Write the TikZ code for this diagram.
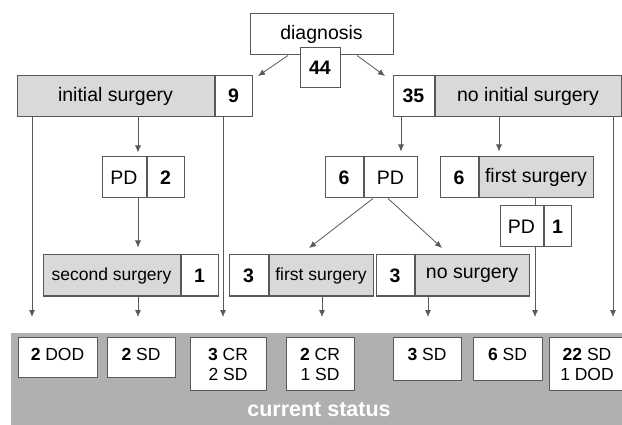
\documentclass[tikz,border=0pt]{standalone}
\usepackage{fontspec}
\setmainfont{Liberation Sans}
\usetikzlibrary{arrows.meta,positioning}
\definecolor{boxgray}{gray}{0.85}
\definecolor{bandgray}{gray}{0.69}
\definecolor{edge}{gray}{0.35}

\begin{document}
\begin{tikzpicture}[x=1pt, y=-1pt,
  font=\fontsize{19.5}{21}\selectfont, node distance=0pt,
  part/.style={draw=edge, line width=1pt, minimum height=41pt, inner sep=0pt},
  lbl/.style={part, fill=boxgray},
  num/.style={part, fill=white, font=\fontsize{19.5}{21}\selectfont\bfseries},
  res/.style={draw=edge, line width=1pt, fill=white, anchor=north, inner sep=0pt, align=center,
    font=\fontsize{17.5}{20}\selectfont},
  resone/.style={res, text height=22.5pt, text depth=#1},
  restwo/.style={res, minimum height=53pt},
  arr/.style={draw=edge, line width=0.8pt, -{Latex[length=7pt,width=6pt]}},
  link/.style={draw=edge, line width=0.8pt}]
  \useasboundingbox (0,0) rectangle (622,425);
  % diagnosis
  \node[part, fill=white, minimum width=143pt] (diag) at (321.5,34.5) {diagnosis};
  \node[num, minimum width=40pt, minimum height=40pt] (diagN) at (320,68) {44};
  % first split
  \node[lbl, minimum width=197pt] (init) at (115.5,96) {initial surgery};
  \node[num, minimum width=37pt, right=of init] (initN) {9};
  \node[num, minimum width=41pt] (noinitN) at (413.5,96) {35};
  \node[lbl, minimum width=186pt, right=of noinitN] (noinit) {no initial surgery};
  % progression
  \node[part, fill=white, minimum width=44pt] (pdA) at (124,177.5) {PD};
  \node[num, minimum width=37pt, right=of pdA] (pdAN) {2};
  \node[num, minimum width=38pt] (pdBN) at (344,177.5) {6};
  \node[part, fill=white, minimum width=53pt, right=of pdBN] (pdB) {PD};
  \node[num, minimum width=38pt] (fsAN) at (459,177.5) {6};
  \node[lbl, minimum width=114pt, right=of fsAN] (fsA) {first surgery};
  \node[part, fill=white, minimum width=43pt] (pdC) at (521.5,226.5) {PD};
  \node[num, minimum width=27pt, right=of pdC] (pdCN) {1};
  % later treatment
  \node[lbl, minimum width=137pt, font=\fontsize{17.5}{20}\selectfont] (ssurg) at (111.5,275.5) {second surgery};
  \node[num, minimum width=37pt, right=of ssurg] (ssurgN) {1};
  \node[num, minimum width=39pt] (fsBN) at (248.5,275.5) {3};
  \node[lbl, minimum width=104pt, font=\fontsize{17.5}{20}\selectfont, right=of fsBN] (fsB) {first surgery};
  \node[num, minimum width=38pt] (nosN) at (395,275.5) {3};
  \node[lbl, minimum width=114pt, right=of nosN] (nos) {no surgery};
  % current status
  \node[fill=bandgray, minimum width=611pt, minimum height=92pt, inner sep=0pt] (band) at (316.5,379) {};
  \node[text=white, font=\fontsize{21.5}{24}\selectfont\bfseries] (status) at (319,410) {current status};
  \node[resone=17.5pt, minimum width=79pt] (r1) at (57.5,337) {\textbf{2} DOD};
  \node[resone=17.5pt, minimum width=68pt] (r2) at (141,337) {\textbf{2} SD};
  \node[restwo, minimum width=76pt] (r3) at (228,337) {\textbf{3} CR\\2 SD};
  \node[restwo, minimum width=68pt] (r4) at (320,337) {\textbf{2} CR\\1 SD};
  \node[resone=20.5pt, minimum width=68pt] (r5) at (427,337) {\textbf{3} SD};
  \node[resone=20.5pt, minimum width=69pt] (r6) at (507.5,337) {\textbf{6} SD};
  \node[restwo, minimum width=76pt] (r7) at (587,337) {\textbf{22} SD\\1 DOD};
  % arrow ends and columns
  \coordinate (e1) at (32,317);
  \coordinate (e2) at (138,317);
  \coordinate (e3) at (223,317);
  \coordinate (e4) at (322,317);
  \coordinate (e5) at (428,317);
  \coordinate (e6) at (535,317);
  \coordinate (e7) at (613,317);
  \coordinate (k1) at (401,0);
  \coordinate (k2) at (499,0);
  \coordinate (dl) at (258,76);
  \coordinate (dr) at (385,76);
  \coordinate (pl) at (309,248);
  \coordinate (pr) at (442,248);
  \draw[arr] ([xshift=-33.5pt]diag.south) -- (dl);
  \draw[arr] ([xshift=35.5pt]diag.south) -- (dr);
  \draw[arr] (init.south -| e1) -- (e1);
  \draw[arr, shorten >=4pt] (init.south -| e2) -- (pdA.north -| e2);
  \draw[arr, shorten >=7pt] (pdA.south -| e2) -- (ssurg.north -| e2);
  \draw[arr] (ssurg.south -| e2) -- (e2);
  \draw[arr] (initN.south -| e3) -- (e3);
  \draw[arr, shorten >=5pt] (noinitN.south -| k1) -- (pdB.north -| k1);
  \draw[arr, shorten >=5pt] (noinit.south -| k2) -- (fsA.north -| k2);
  \draw[arr] (noinit.south -| e7) -- (e7);
  \draw[arr] ([xshift=-17.5pt]pdB.south) -- (pl);
  \draw[arr] ([xshift=-2.5pt]pdB.south) -- (pr);
  \draw[link] (fsA.south -| e6) -- (pdC.north -| e6);
  \draw[arr] (pdC.south -| e6) -- (e6);
  \draw[arr] (fsB.south -| e4) -- (e4);
  \draw[arr] (nos.south -| e5) -- (e5);
\end{tikzpicture}
\end{document}
